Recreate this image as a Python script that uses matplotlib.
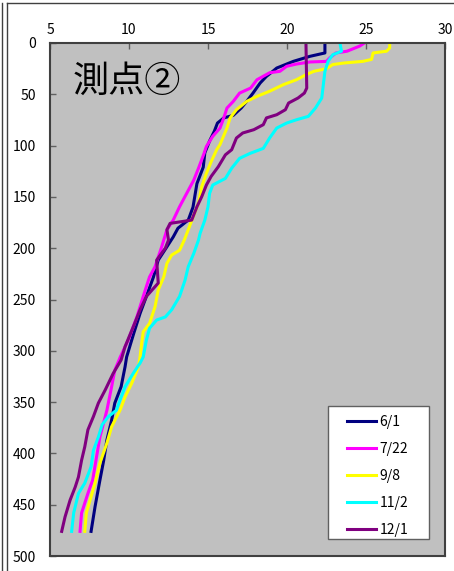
import matplotlib
matplotlib.use("Agg")
import matplotlib.pyplot as plt
from matplotlib.lines import Line2D
from matplotlib.patches import Rectangle

plt.rcParams['font.family'] = ['Noto Sans CJK JP', 'DejaVu Sans']

# depth (m) and temperature (deg C) for each survey date
d_0601 = [0, 9.7, 13, 17.9, 24.4, 27.6, 32.5, 39, 48.8, 56.9, 63.4, 70.5, 73, 78, 86, 95.5,
          107, 121, 137, 160, 172.6, 180.5, 189, 198.6, 211.6, 228, 247, 263.6, 283, 306,
          315.6, 335, 351, 367.6, 387, 406.6, 426, 452, 476]
t_0601 = [22.4, 22.4, 21.45, 20.4, 19.35, 19.1, 18.7, 18.3, 17.85, 17.45, 17.1, 16.6, 16.0, 15.6, 15.4, 15.1,
          14.8, 14.7, 14.3, 14.05, 13.75, 13.1, 12.8, 12.4, 11.85, 11.55, 11.1, 10.7, 10.3, 9.85,
          9.75, 9.5, 9.1, 8.9, 8.6, 8.4, 8.16, 7.85, 7.6]

d_0722 = [0, 3, 8, 9.7, 14.6, 17.9, 18.5, 20.5, 22.7, 27.6, 29, 35.8, 43.9, 48.8, 56.9, 63.4,
          73, 82.9, 91, 100.8, 107.6, 122, 133.6, 146.6, 159.6, 172.6, 182, 198.6, 218, 228,
          247, 267, 289.6, 306, 319, 335, 358, 384, 403, 426, 439, 458, 476]
t_0722 = [24.9, 24.6, 23.8, 23.1, 22.7, 22.5, 21.45, 20.6, 19.98, 19.55, 18.9, 18.1, 17.7, 17.0, 16.6, 16.2,
          16.0, 15.76, 15.3, 14.9, 14.75, 14.4, 14.1, 13.65, 13.2, 12.8, 12.4, 12.07, 11.65, 11.3,
          10.9, 10.5, 9.95, 9.45, 9.1, 8.9, 8.6, 8.16, 7.95, 7.7, 7.4, 7.0, 6.9]

d_0908 = [0, 4.9, 8, 9.7, 16, 17.9, 19.5, 21, 25, 27.6, 30.9, 35.8, 40.6, 47, 52, 56.9,
          65, 73, 82.9, 99, 104, 115.7, 127, 140, 156, 169, 182, 192, 202, 206.7,
          214.8, 228, 240.8, 257, 273.3, 281.5, 292.8, 306, 315.6, 331.8, 345, 358, 374, 390,
          409.5, 429, 458, 476]
t_0908 = [26.5, 26.5, 26.3, 25.45, 25.35, 24.8, 23.6, 22.9, 22.5, 21.7, 21.2, 20.6, 19.77, 18.9, 18.1, 17.45,
          16.8, 16.4, 16.2, 15.76, 15.55, 15.2, 14.9, 14.6, 14.4, 14.07, 13.75, 13.5, 13.2, 12.7,
          12.4, 12.2, 11.85, 11.65, 11.3, 10.9, 10.8, 10.7, 10.6, 10.17, 9.75, 9.43, 8.9, 8.6,
          8.16, 7.85, 7.3, 7.2]

d_1102 = [0, 8, 11.4, 17.9, 27.6, 40.6, 53.6, 63.4, 71.5, 74.8, 78, 82.9, 92.6, 102.7, 107.6, 112.4,
          122, 132, 138.4, 146.6, 159.6, 172.6, 185.5, 192, 205, 218, 231, 247, 260, 267,
          270, 278, 289.6, 306, 312, 322, 335, 348, 358, 364, 372, 384, 397, 413, 429, 439,
          458, 476]
t_1102 = [23.35, 23.45, 22.9, 22.6, 22.4, 22.3, 22.2, 21.8, 21.35, 20.6, 19.98, 19.35, 18.9, 18.5, 17.66, 17.0,
          16.5, 16.1, 15.3, 15.1, 15.0, 14.8, 14.5, 14.4, 14.1, 13.75, 13.55, 13.2, 12.7, 12.3,
          11.75, 11.3, 11.1, 10.9, 10.7, 10.27, 9.75, 9.43, 9.2, 8.7, 8.3, 8.06, 7.75, 7.6, 7.2, 6.8,
          6.5, 6.37]

d_1201 = [0, 43.9, 48.8, 53.6, 58.5, 65, 69.9, 73, 79.6, 84.5, 87.7, 92.6, 104, 109, 120.6, 130,
          138.4, 149.9, 159.6, 172.6, 175.8, 182, 192, 200, 211.6, 234, 247, 260, 276.6, 296,
          309, 322, 338, 351, 364, 377, 393.6, 406.6, 423, 432.6, 445.6, 462, 476]
t_1201 = [21.2, 21.25, 21.1, 20.7, 20.1, 19.9, 19.35, 18.7, 18.5, 17.9, 17.2, 16.8, 16.5, 16.1, 15.65, 15.2,
          14.9, 14.6, 14.3, 13.97, 12.6, 12.4, 12.5, 12.3, 11.75, 11.85, 11.1, 10.7, 10.27, 9.75,
          9.5, 9.0, 8.5, 8.06, 7.75, 7.4, 7.2, 7.0, 6.8, 6.6, 6.27, 5.95, 5.74]

labels = ['6/1', '7/22', '9/8', '11/2', '12/1']
colors = ['#000080', '#FF00FF', '#FFFF00', '#00FFFF', '#800080']

W, H = 454, 571
fig = plt.figure(figsize=(W / 100, H / 100), dpi=100)
ax = fig.add_axes([50/W, 15/H, 395/W, 513/H])
ax.set_facecolor('#C0C0C0')

series = [(t_0601, d_0601), (t_0722, d_0722), (t_0908, d_0908), (t_1102, d_1102), (t_1201, d_1201)]
for (t, d), lab, c in zip(series, labels, colors):
    ax.plot(t, d, color=c, lw=2.2, label=lab)

ax.set_xlim(5, 30)
ax.set_ylim(500, 0)
ax.set_xticks([5, 10, 15, 20, 25, 30])
ax.set_yticks(range(0, 501, 50))
ax.xaxis.tick_top()
ax.tick_params(direction='in', length=4, width=1, color='#606060', labelsize=10)
ax.tick_params(axis='x', pad=4)
ax.tick_params(axis='y', pad=10)
for s in ax.spines.values():
    s.set_color('#404040')
    s.set_linewidth(1.5)

ax.text(0.058, 0.924, '測点②', transform=ax.transAxes, fontsize=26, va='center', ha='left')

# legend box drawn by hand so the padding matches
box = Rectangle((328/W, 1 - 539/H), 101/W, 133/H, transform=fig.transFigure,
                facecolor='white', edgecolor='#606060', lw=1, zorder=5, clip_on=False)
ax.add_patch(box)
leg = ax.legend(loc='upper left', bbox_to_anchor=(347/W, 1 - 415/H), bbox_transform=fig.transFigure,
                frameon=False, fontsize=10, handlelength=2.1, handletextpad=0.25,
                labelspacing=0.93, borderpad=0, borderaxespad=0)
leg.set_zorder(6)

# outer frame lines
fig.add_artist(Line2D([2/W, 2/W], [0, 1 - 3/H], color='#404040', lw=1))
fig.add_artist(Line2D([7/W, 7/W], [0, 1 - 3/H], color='#404040', lw=1))
fig.add_artist(Line2D([7/W, 1], [1 - 3/H, 1 - 3/H], color='#404040', lw=1))

fig.savefig('out.png', dpi=100)
